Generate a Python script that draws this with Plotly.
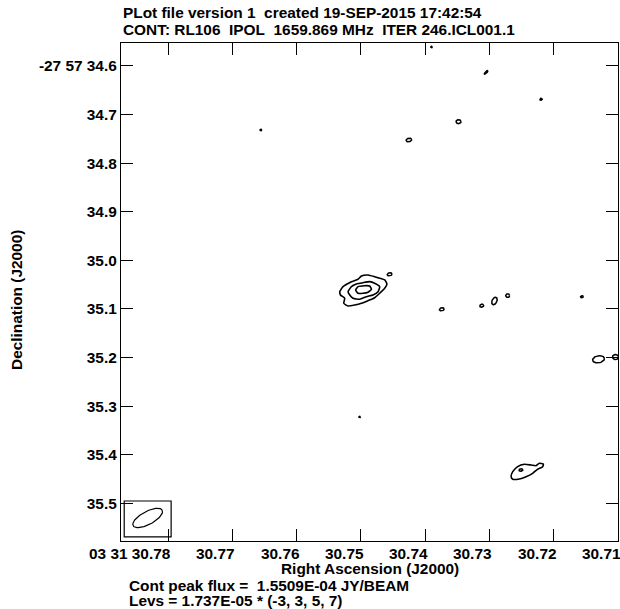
import numpy as np
import plotly.graph_objects as go

# ---------------- data ----------------
# Axis ticks (RA seconds of time, Dec arcsec magnitude)
x_tick_vals = [30.78, 30.77, 30.76, 30.75, 30.74, 30.73, 30.72, 30.71]
x_tick_text = ["03 31 30.78", "30.77", "30.76", "30.75", "30.74", "30.73", "30.72", "30.71"]
y_tick_vals = [34.6, 34.7, 34.8, 34.9, 35.0, 35.1, 35.2, 35.3, 35.4, 35.5]
y_tick_text = ["-27 57 34.6", "34.7", "34.8", "34.9", "35.0", "35.1", "35.2", "35.3", "35.4", "35.5"]

x_range = [30.78733, 30.71]
y_range = [35.5774, 34.5527]

# Main source contours (level 3, 5, 7 sigma)
src_lvl3_ra = [30.75329, 30.75278, 30.75148, 30.75045, 30.74992, 30.74890, 30.74786, 30.74708,
               30.74630, 30.74595, 30.74630, 30.74708, 30.74786, 30.74890, 30.74992, 30.75096,
               30.75200, 30.75267, 30.75252, 30.75318, 30.75329]
src_lvl3_dec = [35.0644, 35.0541, 35.0438, 35.0389, 35.0321, 35.0300, 35.0335, 35.0368,
                35.0403, 35.0486, 35.0574, 35.0677, 35.0768, 35.0829, 35.0883, 35.0918,
                35.0938, 35.0883, 35.0780, 35.0712, 35.0644]
src_lvl5_ra = [30.75200, 30.75148, 30.75070, 30.74968, 30.74863, 30.74786, 30.74708, 30.74734,
               30.74812, 30.74915, 30.75019, 30.75122, 30.75174, 30.75200]
src_lvl5_dec = [35.0644, 35.0541, 35.0486, 35.0459, 35.0438, 35.0471, 35.0541, 35.0644,
                35.0712, 35.0747, 35.0800, 35.0780, 35.0712, 35.0644]
src_lvl7_ra = [30.75081, 30.75045, 30.74941, 30.74863, 30.74837, 30.74890, 30.74968, 30.75045, 30.75081]
src_lvl7_dec = [35.0609, 35.0541, 35.0521, 35.0527, 35.0595, 35.0656, 35.0677, 35.0677, 35.0609]

# Lower-right source (3 sigma)
src2_ra = [30.72663, 30.72638, 30.72561, 30.72457, 30.72353, 30.72275, 30.72224, 30.72161,
           30.72172, 30.72250, 30.72328, 30.72430, 30.72534, 30.72638, 30.72663]
src2_dec = [35.4451, 35.4348, 35.4245, 35.4196, 35.4210, 35.4224, 35.4175, 35.4189,
            35.4245, 35.4298, 35.4381, 35.4451, 35.4498, 35.4504, 35.4451]

# Small compact contours: centre, semi-axes (mas), orientation (deg on sky plot)
blob_ra = [30.74553, 30.73741, 30.76556, 30.74253, 30.73481, 30.73051, 30.72197, 30.73901,
           30.73120, 30.72922, 30.72716, 30.71561, 30.75019, 30.71303, 30.72510, 30.71039]
blob_dec = [35.0286, 35.1006, 34.7317, 34.7523, 34.7146, 34.6130, 34.6685, 34.5609,
            35.0932, 35.0835, 35.0726, 35.0747, 35.3222, 35.2035, 35.4313, 35.1988]
blob_a = [5.1, 5.1, 2.0, 5.8, 5.1, 5.1, 2.5, 1.6, 4.1, 8.2, 4.1, 3.1, 1.6, 12.3, 4.1, 6.2]
blob_b = [3.1, 3.1, 1.6, 3.7, 4.1, 1.6, 2.0, 1.6, 3.1, 5.0, 3.7, 2.0, 1.2, 7.2, 2.5, 5.2]
blob_ang = [10, 10, 0, 10, 0, 45, 30, 0, 20, 65, 0, 20, 0, 10, 10, 0]

# Beam (restoring beam) and its box
beam_ra, beam_dec = 30.78318, 35.5300
beam_a, beam_b, beam_ang = 34.0, 13.4, 28.0
beam_box_ra = [30.78683, 30.77953]
beam_box_dec = [35.4951, 35.5691]

DEC_ABS = 27 + 57 / 60 + 35 / 3600
RA_SCALE = 15 * np.cos(np.radians(DEC_ABS))  # arcsec per RA second


def ellipse(ra0, dec0, a_mas, b_mas, ang_deg, n=48):
    t = np.linspace(0, 2 * np.pi, n)
    th = np.radians(ang_deg)
    dx = a_mas * np.cos(th) * np.cos(t) - b_mas * np.sin(th) * np.sin(t)
    dy = a_mas * np.sin(th) * np.cos(t) + b_mas * np.cos(th) * np.sin(t)
    return ra0 - dx / 1000.0 / RA_SCALE, dec0 - dy / 1000.0


FONT = "Liberation Sans"
fs = 15.4
line = dict(color="black", width=1.5)

fig = go.Figure()
for xs, ys in [(src_lvl3_ra, src_lvl3_dec), (src_lvl5_ra, src_lvl5_dec),
               (src_lvl7_ra, src_lvl7_dec), (src2_ra, src2_dec)]:
    fig.add_trace(go.Scatter(x=xs, y=ys, mode="lines",
                             line=dict(color="black", width=1.6, shape="spline", smoothing=0.5),
                             hoverinfo="skip", showlegend=False))
for r, d, a, b, g in zip(blob_ra, blob_dec, blob_a, blob_b, blob_ang):
    ex, ey = ellipse(r, d, a, b, g)
    fig.add_trace(go.Scatter(x=ex, y=ey, mode="lines", line=line, hoverinfo="skip", showlegend=False))

bx, by = ellipse(beam_ra, beam_dec, beam_a, beam_b, beam_ang, n=72)
fig.add_trace(go.Scatter(x=bx, y=by, mode="lines", line=dict(color="black", width=1.2),
                         hoverinfo="skip", showlegend=False))
fig.add_shape(type="rect", xref="x", yref="y", x0=beam_box_ra[0], x1=beam_box_ra[1],
              y0=beam_box_dec[0], y1=beam_box_dec[1], line=dict(color="black", width=1.2))

tfont = dict(family=FONT, size=fs, color="black", weight="bold")

fig.update_xaxes(range=x_range, tickvals=x_tick_vals, showticklabels=False,
                 ticks="inside", ticklen=12, tickwidth=1.3, tickcolor="black",
                 showline=True, linecolor="black", linewidth=1.3, mirror="ticks",
                 showgrid=False, zeroline=False)
fig.update_yaxes(range=y_range, tickvals=y_tick_vals, ticktext=y_tick_text,
                 ticks="inside", ticklen=12, tickwidth=1.3, tickcolor="black",
                 showline=True, linecolor="black", linewidth=1.3, mirror="ticks",
                 showgrid=False, zeroline=False, tickfont=tfont)

ann = []
for v, t in zip(x_tick_vals, x_tick_text):
    ann.append(dict(x=v, y=-0.0241, xref="x", yref="paper", text=t, showarrow=False,
                    xanchor="right", yanchor="middle", xshift=4, borderpad=0, font=tfont))
ann += [
    dict(x=0.002, y=1.0622, xref="paper", yref="paper", xanchor="left", yanchor="middle",
         text="PLot file version 1\u00a0\u00a0created 19-SEP-2015 17:42:54", showarrow=False,
         borderpad=0, font=tfont),
    dict(x=0.002, y=1.0281, xref="paper", yref="paper", xanchor="left", yanchor="middle",
         text="CONT: RL106\u00a0\u00a0IPOL\u00a0\u00a01659.869 MHz\u00a0\u00a0ITER 246.ICL001.1",
         showarrow=False, borderpad=0, font=tfont),
    dict(x=0.5, y=-0.0562, xref="paper", yref="paper", xanchor="center", yanchor="middle",
         text="Right Ascension (J2000)", showarrow=False, borderpad=0, font=tfont),
    dict(x=0.0141, y=-0.0884, xref="paper", yref="paper", xanchor="left", yanchor="middle",
         text="Cont peak flux =\u00a0\u00a01.5509E-04 JY/BEAM", showarrow=False, borderpad=0, font=tfont),
    dict(x=0.0141, y=-0.1185, xref="paper", yref="paper", xanchor="left", yanchor="middle",
         text="Levs = 1.737E-05 * (-3, 3, 5, 7)", showarrow=False, borderpad=0, font=tfont),
    dict(x=-0.2093, y=0.484, xref="paper", yref="paper", xanchor="center", yanchor="middle",
         text="Declination (J2000)", textangle=-90, showarrow=False, borderpad=0, font=tfont),
]

fig.update_layout(width=620, height=609, margin=dict(l=121, r=2, t=43, b=68, pad=0),
                  paper_bgcolor="white", plot_bgcolor="white", annotations=ann,
                  font=dict(family=FONT, size=fs, color="black"))

fig.write_html("out.html")
